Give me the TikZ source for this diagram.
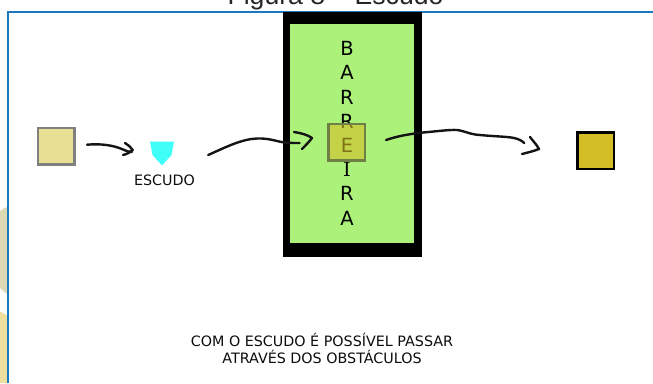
\documentclass[tikz,border=0pt]{standalone}
\usepackage{fontspec}
\setmainfont{DejaVu Sans}
\newfontfamily\titlefont{Liberation Sans}
\newfontfamily\serifletter{DejaVu Serif}
\usetikzlibrary{calc}
\tikzset{
  x=1pt,y=-1pt,
  squarebox/.style={draw,line width=2.5pt,minimum size=36.5pt,inner sep=0pt,outer sep=0pt},
  handline/.style={line width=2.4pt,black!92,line cap=round,line join=round},
  letter/.style={inner sep=0pt,font=\fontsize{19.5}{21}\selectfont,text=black},
  caption/.style={inner sep=0pt,align=center,text=black!95,font=\fontsize{14.3}{17}\selectfont},
}
\definecolor{frameblue}{HTML}{1B78BE}
\definecolor{barrgreen}{HTML}{ACF27A}
\definecolor{paleyellow}{HTML}{E8DF95}
\definecolor{goldbox}{HTML}{D4BE25}
\definecolor{shieldcyan}{HTML}{40FFF8}
\definecolor{edgegray}{HTML}{DDD9B5}
\definecolor{edgeyellow}{HTML}{EEDF9F}
\definecolor{ghostedge}{HTML}{6F7F45}
\begin{document}
\begin{tikzpicture}
\useasboundingbox (0,0) rectangle (653,383);
\begin{scope}
\clip (0,0) rectangle (653,383);
\fill[white] (0,0) rectangle (653,383);
% pale background shapes at the left edge
\fill[edgegray] (0,211) .. controls (3,209) and (5,207.5) .. (7.5,207) -- (7.5,294) .. controls (5,293) and (3,291) .. (0,288) -- cycle;
\fill[edgeyellow] (0,311.5) -- (7.5,315.5) -- (7.5,383) -- (0,383) -- cycle;
% title and frame
\node[inner sep=0pt,anchor=base,font=\titlefont\fontsize{26.6}{28}\selectfont,text=black!85] (title) at (335.5,4.5) {Figura 8 – Escudo};
\draw[frameblue,line width=1.1pt] (8,383) -- (8,12) -- (653,12);
% barrier
\node[fill=black,minimum width=139.5pt,minimum height=245pt,inner sep=0pt,outer sep=0pt] (barrierframe) at (352.5,134.5) {};
\node[fill=barrgreen,minimum width=124pt,minimum height=219pt,inner sep=0pt,outer sep=0pt] (barrier) at (352,133.5) {};
% barrier letters
\node[letter] (l1) at (347,48) {B};
\node[letter] (l2) at (347,72.5) {A};
\node[letter] (l3) at (347,97.5) {R};
\node[letter] (l4) at (347,121) {R};
\node[letter,font=\serifletter\fontsize{19.5}{21}\selectfont] (l6) at (347,169) {I};
\node[letter] (l7) at (347,193.5) {R};
\node[letter] (l8) at (347,218.5) {A};
\node[letter] (l5) at (347,145) {E};
% squares
\node[squarebox,draw=black!50,fill=paleyellow] (start) at (56.3,146) {};
\node[squarebox,draw=ghostedge,fill=goldbox,fill opacity=.6] (ghost) at (346.8,142) {};
\node[squarebox,draw=black,fill=goldbox] (goal) at (595.5,150.8) {};
% shield
\fill[shieldcyan] (150,141.5) -- (174,141.5) -- (171.5,155) -- (162,165.5) -- (152.5,155) -- cycle;
\node[inner sep=0pt,minimum width=24pt,minimum height=24pt] (shield) at (162,153.5) {};
\node[caption,anchor=center] (shieldlabel) at (164.5,180) {ESCUDO};
% hand-drawn connectors
\coordinate (a1s) at ($(start.east)+(12.5,-1.3)$);
\coordinate (a1e) at ($(shield.west)+(-18,-1.5)$);
\draw[handline] (a1s) .. controls (100,143.5) and (113,145) .. (123,149.5) .. controls (126,151) and (129,152) .. (a1e);
\draw[handline] (125,143) .. controls (128,145) and (131,147) .. (132.7,150) .. controls (130,152.5) and (127,154) .. (123,155);
\coordinate (a2s) at ($(shield.east)+(34,1.5)$);
\coordinate (a2e) at ($(ghost.west)+(-29,1)$);
\draw[handline] (a2s) .. controls (226,147) and (242,139) .. (257,138.5) .. controls (270,138) and (278,142) .. (285,142.5) .. controls (290,143) and (294,143) .. (a2e);
\draw[handline] (294,132) .. controls (301,133) and (308,135) .. (312,138) .. controls (309,142) and (305,146) .. (302,149);
\coordinate (a3s) at ($(ghost.east)+(21,-2)$);
\coordinate (a3e) at ($(goal.west)+(-53,-7.8)$);
\draw[handline] (a3s) .. controls (395,137) and (405,134.5) .. (423,132.5) .. controls (435,131.5) and (450,129.5) .. (457,130) .. controls (465,131) and (470,134.5) .. (480,135) .. controls (495,136.5) and (507,136.5) .. (514,138) .. controls (519,139) and (522,141) .. (a3e);
\draw[handline] (530,137) .. controls (533,141) and (537,145) .. (539,149) .. controls (534,151) and (528,152.5) .. (522,154);
% bottom caption
\node[caption] (note) at (322,348) {COM O ESCUDO É POSSÍVEL PASSAR\\ATRAVÉS DOS OBSTÁCULOS};
\end{scope}
\end{tikzpicture}
\end{document}
